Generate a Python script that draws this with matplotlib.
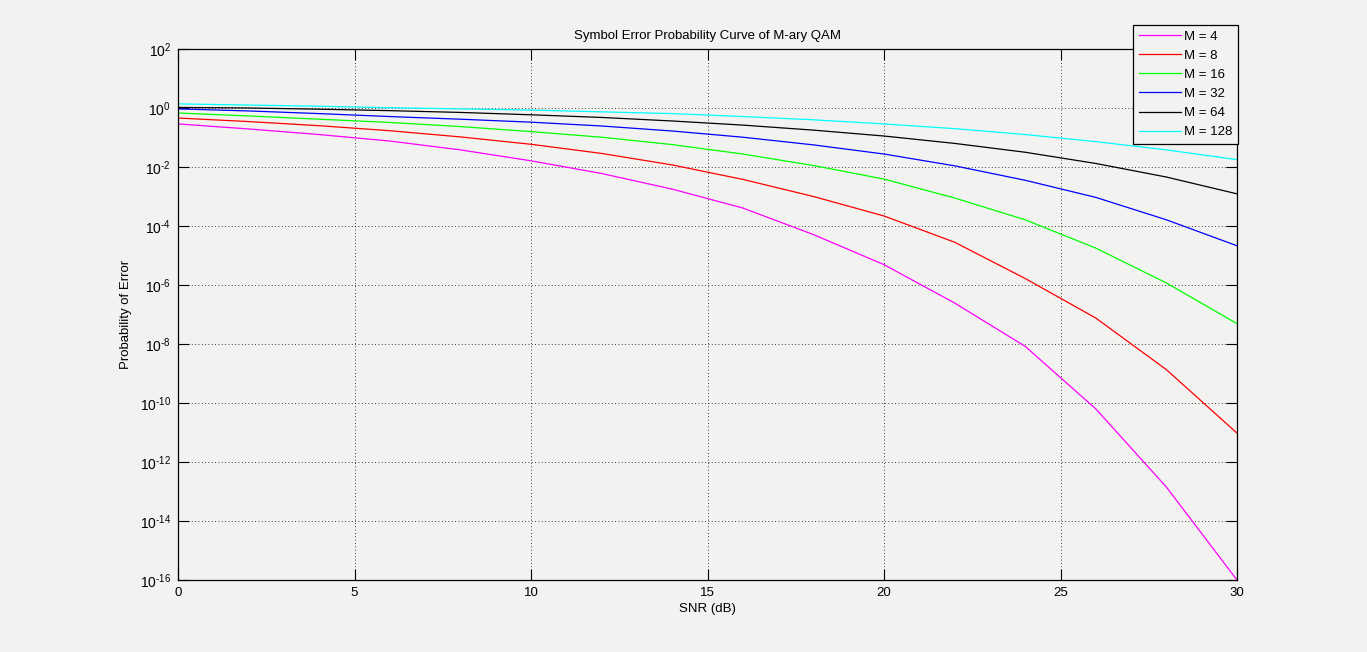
import numpy as np
import matplotlib
matplotlib.use("Agg")
import matplotlib.pyplot as plt
from matplotlib.ticker import FixedLocator, FuncFormatter, NullLocator

snr_db = [0, 2, 4, 6, 8, 10, 12, 14, 16, 18, 20, 22, 24, 26, 28, 30]

# log10 of symbol error probability
log_pe_m4 = [-0.54, -0.71, -0.90, -1.12, -1.42, -1.79, -2.22, -2.75, -3.39, -4.29,
             -5.31, -6.61, -8.08, -10.20, -12.85, -16.0]
log_pe_m8 = [-0.34, -0.46, -0.60, -0.77, -0.98, -1.23, -1.54, -1.93, -2.42, -3.00,
             -3.66, -4.55, -5.78, -7.12, -8.87, -11.02]
log_pe_m16 = [-0.17, -0.27, -0.38, -0.49, -0.63, -0.80, -0.99, -1.24, -1.56, -1.95,
              -2.41, -3.05, -3.79, -4.75, -5.93, -7.31]
log_pe_m32 = [-0.03, -0.10, -0.19, -0.29, -0.38, -0.48, -0.61, -0.78, -0.99, -1.25,
              -1.56, -1.96, -2.45, -3.03, -3.79, -4.67]
log_pe_m64 = [0.02, 0.00, -0.04, -0.09, -0.15, -0.23, -0.32, -0.44, -0.58, -0.75,
              -0.95, -1.20, -1.50, -1.88, -2.34, -2.91]
log_pe_m128 = [0.14, 0.10, 0.06, 0.01, -0.03, -0.07, -0.13, -0.19, -0.29, -0.40,
               -0.54, -0.70, -0.90, -1.14, -1.42, -1.75]

series_labels = ["M = 4", "M = 8", "M = 16", "M = 32", "M = 64", "M = 128"]
series_colors = ["#ff00ff", "#ff0000", "#00ff00", "#0000ff", "#000000", "#00ffff"]
series_values = [log_pe_m4, log_pe_m8, log_pe_m16, log_pe_m32, log_pe_m64, log_pe_m128]

x_ticks = [0, 5, 10, 15, 20, 25, 30]
y_tick_exps = [2, 0, -2, -4, -6, -8, -10, -12, -14, -16]

plt.rcParams['font.family'] = ['Liberation Sans', 'DejaVu Sans']
plt.rcParams['mathtext.fontset'] = 'custom'
plt.rcParams['mathtext.rm'] = 'Liberation Sans'
plt.rcParams['mathtext.it'] = 'Liberation Sans:italic'
plt.rcParams['mathtext.bf'] = 'Liberation Sans:bold'

W, H = 1367, 652
bg = "#f2f2f1"
fig = plt.figure(figsize=(W / 100, H / 100), dpi=100, facecolor=bg)
left, right, top, bottom = 178, 1237, 49, 580
ax = fig.add_axes([left / W, 1 - bottom / H, (right - left) / W, (bottom - top) / H])
ax.set_facecolor(bg)

for lab, col, vals in zip(series_labels, series_colors, series_values):
    ax.semilogy(snr_db, 10.0 ** np.array(vals), color=col, lw=0.9, label=lab)

ax.set_xlim(0, 30)
ax.set_ylim(1e-16, 1e2)
ax.xaxis.set_major_locator(FixedLocator(x_ticks))
ax.yaxis.set_major_locator(FixedLocator([10.0 ** e for e in y_tick_exps]))
ax.yaxis.set_minor_locator(NullLocator())
ax.yaxis.set_major_formatter(
    FuncFormatter(lambda v, p: r"$\mathregular{10^{\text{%d}}}$" % int(round(np.log10(v)))))

fs = 9.5
ax.tick_params(axis='both', which='major', direction='in', length=8, width=0.8,
               top=True, right=True, labelsize=fs, pad=5, colors='black')
ax.tick_params(axis='y', labelsize=10)
ax.grid(True, which='major', linestyle=(0, (1, 3)), color='black', linewidth=0.6)
for s in ax.spines.values():
    s.set_linewidth(0.9)
    s.set_color('black')

ax.set_title("Symbol Error Probability Curve of M-ary QAM", fontsize=fs, pad=7)
ax.set_xlabel("SNR (dB)", fontsize=fs, labelpad=3)
ax.set_ylabel("Probability of Error", fontsize=fs)
ax.yaxis.set_label_coords((132 - left) / (right - left), 0.5)

leg = ax.legend(loc='upper right', bbox_to_anchor=(1237.5 / W, 1 - 25 / H),
                bbox_transform=fig.transFigure, fontsize=fs, frameon=True,
                fancybox=False, edgecolor='black', facecolor=bg, framealpha=1,
                borderaxespad=0, handlelength=3.2, handletextpad=0.2,
                labelspacing=0.52, borderpad=0.42)
leg.get_frame().set_linewidth(0.9)
leg.set_zorder(5)

fig.savefig("out.png", dpi=100, facecolor=bg)
